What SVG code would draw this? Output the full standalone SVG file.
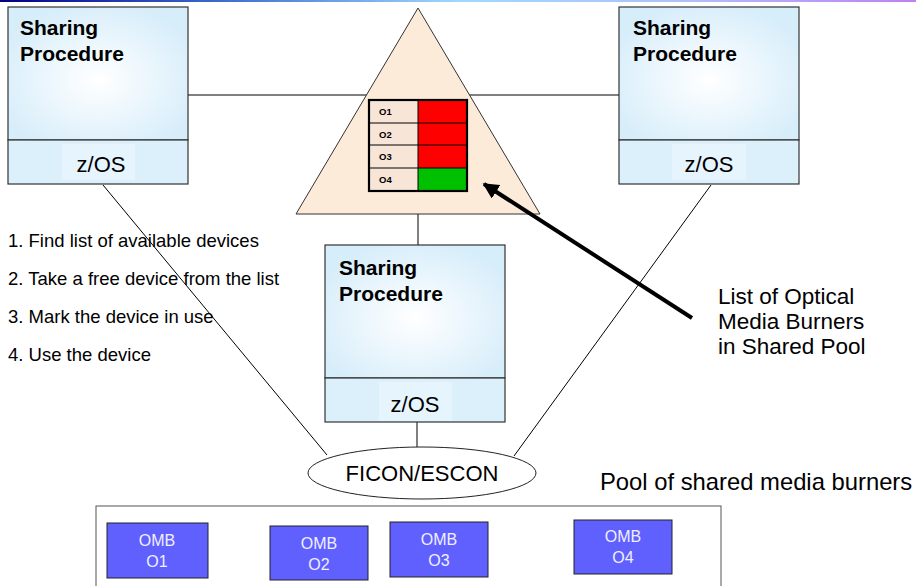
<svg xmlns="http://www.w3.org/2000/svg" width="916" height="586" viewBox="0 0 916 586">
<defs>
<linearGradient id="bar" x1="0" y1="0" x2="1" y2="0">
<stop offset="0" stop-color="#000080"/>
<stop offset="0.25" stop-color="#4070d0"/>
<stop offset="0.5" stop-color="#a0d8ff"/>
<stop offset="0.75" stop-color="#b0c0f8"/>
<stop offset="1" stop-color="#c080f0"/>
</linearGradient>
<radialGradient id="boxg" cx="0.5" cy="0.55" r="0.6">
<stop offset="0" stop-color="#ffffff"/>
<stop offset="1" stop-color="#d6edfa"/>
</radialGradient>
<marker id="ah" viewBox="0 0 10 10" refX="9" refY="5" markerWidth="4" markerHeight="4" orient="auto" markerUnits="strokeWidth">
<path d="M0,0 L10,5 L0,10 z" fill="#000"/>
</marker>
<style>
.t{font-family:"Liberation Sans",Arial,sans-serif;fill:#000}
.title{font-size:21px;font-weight:bold}
.os{font-size:22px}
.step{font-size:18.5px}
.big{font-size:22.5px}
.fic{font-size:22px}
.pool{font-size:23.8px}
.cell{font-size:9.5px;font-weight:bold}
.omb{font-family:"Liberation Sans",Arial,sans-serif;font-size:16px;fill:#f0f0ff;text-anchor:middle}
.box{fill:url(#boxg);stroke:#333;stroke-width:1.2}
.osband{fill:#dcf0fb;stroke:#333;stroke-width:1.2}
.osin{fill:#e6f5fd}
.ln{stroke:#000;stroke-width:1;fill:none}
.ombr{fill:#6060ff;stroke:#222;stroke-width:1}
</style>
</defs>
<rect x="0" y="0" width="916" height="2" fill="url(#bar)"/>
<g id="connectors">
<line class="ln" x1="188" y1="95" x2="619" y2="95"/>
<line class="ln" x1="418" y1="214" x2="418" y2="245"/>
<line class="ln" x1="417" y1="422" x2="417" y2="447"/>
<line class="ln" x1="103" y1="185" x2="327" y2="455"/>
<line class="ln" x1="711" y1="185" x2="514" y2="456"/>
</g>
<g id="proc-left">
<rect class="box" x="8" y="7" width="180" height="133"/>
<rect class="osband" x="8" y="140" width="180" height="44"/>
<rect class="osin" x="62" y="144" width="73" height="36"/>
<text class="t title" x="20" y="35">Sharing</text>
<text class="t title" x="20" y="61">Procedure</text>
<text class="t os" x="101" y="172" text-anchor="middle">z/OS</text>
</g>
<g id="proc-right">
<rect class="box" x="619" y="7" width="180" height="133"/>
<rect class="osband" x="619" y="140" width="180" height="44"/>
<rect class="osin" x="672" y="144" width="74" height="36"/>
<text class="t title" x="633" y="35">Sharing</text>
<text class="t title" x="633" y="61">Procedure</text>
<text class="t os" x="709" y="172" text-anchor="middle">z/OS</text>
</g>
<g id="shared-list">
<polygon points="418,8 296,214 540,214" fill="#fdebd9" stroke="#333" stroke-width="1"/>
<rect x="369" y="100" width="49" height="91" fill="#f7e6d8"/>
<rect x="418" y="100" width="49" height="23" fill="#ff0000"/>
<rect x="418" y="123" width="49" height="22" fill="#ff0000"/>
<rect x="418" y="145" width="49" height="23" fill="#ff0000"/>
<rect x="418" y="168" width="49" height="23" fill="#00c000"/>
<g stroke="#000" stroke-width="1" fill="none">
<line x1="369" y1="123" x2="467" y2="123"/>
<line x1="369" y1="145" x2="467" y2="145"/>
<line x1="369" y1="168" x2="467" y2="168"/>
<line x1="418" y1="100" x2="418" y2="191"/>
</g>
<rect x="369" y="100" width="98" height="91" fill="none" stroke="#000" stroke-width="2.2"/>
<text class="t cell" x="379" y="115">O1</text>
<text class="t cell" x="379" y="138">O2</text>
<text class="t cell" x="379" y="160">O3</text>
<text class="t cell" x="379" y="183">O4</text>
</g>
<g id="proc-mid">
<rect class="box" x="325" y="245" width="180" height="133"/>
<rect class="osband" x="325" y="378" width="180" height="44"/>
<rect class="osin" x="379" y="382" width="73" height="39"/>
<text class="t title" x="339" y="275">Sharing</text>
<text class="t title" x="339" y="301">Procedure</text>
<text class="t os" x="415" y="412" text-anchor="middle">z/OS</text>
</g>
<g id="steps">
<text class="t step" x="8" y="247">1. Find list of available devices</text>
<text class="t step" x="8" y="285">2. Take a free device from the list</text>
<text class="t step" x="8" y="323">3. Mark the device in use</text>
<text class="t step" x="8" y="361">4. Use the device</text>
</g>
<g id="arrow">
<line x1="692" y1="318" x2="484" y2="184" stroke="#000" stroke-width="4" marker-end="url(#ah)"/>
</g>
<g id="arrow-label">
<text class="t big" x="718" y="304">List of Optical</text>
<text class="t big" x="718" y="329">Media Burners</text>
<text class="t big" x="718" y="354">in Shared Pool</text>
</g>
<g id="ficon">
<ellipse cx="422" cy="473" rx="114" ry="26" fill="#fff" stroke="#222" stroke-width="1"/>
<text class="t fic" x="422" y="481" text-anchor="middle">FICON/ESCON</text>
</g>
<text class="t pool" x="600" y="490">Pool of shared media burners</text>
<g id="pool">
<rect x="96" y="506" width="625" height="90" fill="#fff" stroke="#555" stroke-width="1"/>
</g>
<g id="omb1"><rect class="ombr" x="107" y="523" width="101" height="55"/><text class="omb" x="157" y="546">OMB</text><text class="omb" x="157" y="567">O1</text></g>
<g id="omb2"><rect class="ombr" x="270" y="526" width="98" height="54"/><text class="omb" x="319" y="549">OMB</text><text class="omb" x="319" y="570">O2</text></g>
<g id="omb3"><rect class="ombr" x="390" y="522" width="98" height="55"/><text class="omb" x="439" y="545">OMB</text><text class="omb" x="439" y="566">O3</text></g>
<g id="omb4"><rect class="ombr" x="574" y="520" width="98" height="54"/><text class="omb" x="623" y="542">OMB</text><text class="omb" x="623" y="563">O4</text></g>
</svg>
